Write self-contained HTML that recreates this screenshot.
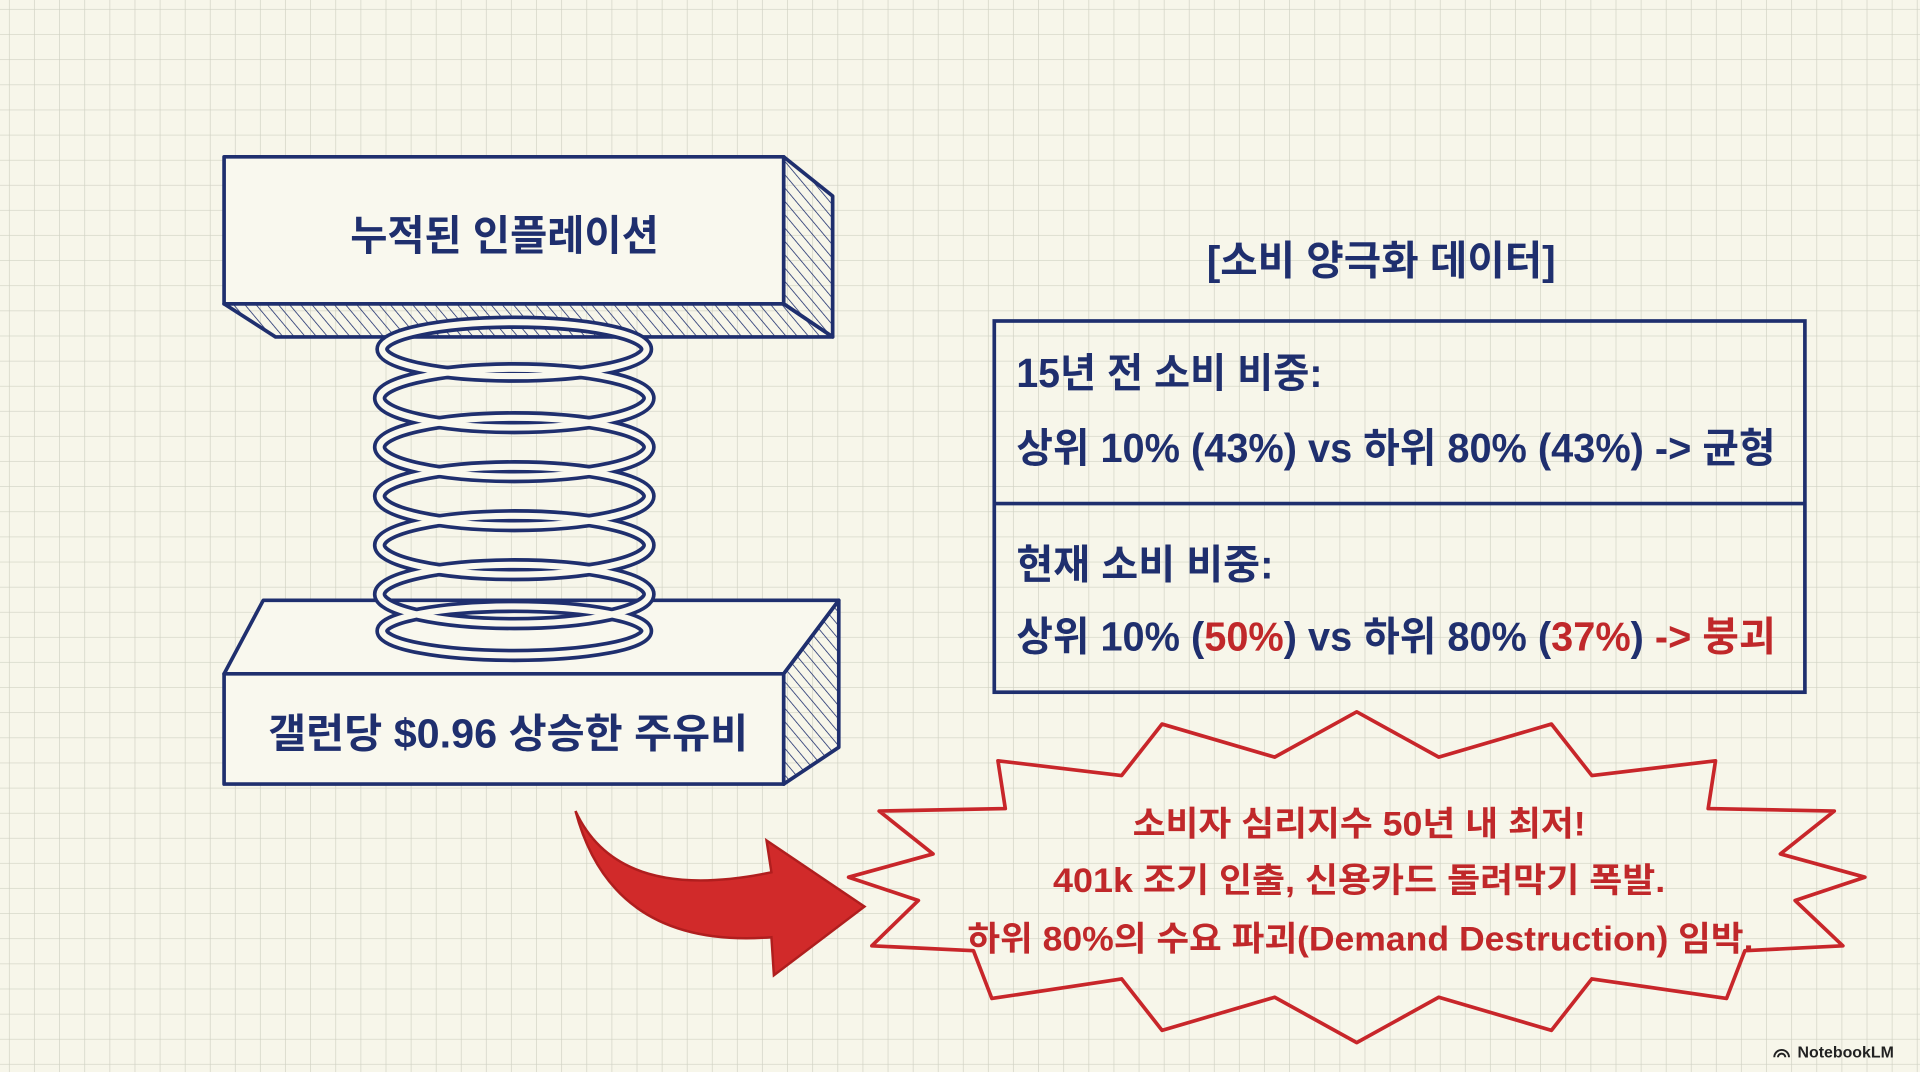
<!DOCTYPE html>
<html><head><meta charset="utf-8"><style>
html,body{margin:0;padding:0;background:#f7f6ea;}
svg{display:block}
text{font-family:"Liberation Sans","Noto Sans CJK KR",sans-serif;}
</style></head><body>
<svg width="1920" height="1072" viewBox="0 0 1568 875" preserveAspectRatio="none" xmlns="http://www.w3.org/2000/svg">
<defs>
<pattern id="g" width="20.5" height="20.5" patternUnits="userSpaceOnUse" x="8" y="8">
<path d="M20.5 0V20.5M0 20.5H20.5" stroke="#d0d1c3" stroke-width="1.1" fill="none"/>
</pattern>
<pattern id="h" width="7" height="7" patternUnits="userSpaceOnUse" patternTransform="rotate(-40)">
<path d="M0 0V7" stroke="#1f2f6e" stroke-width="1.3"/>
</pattern>
</defs>
<rect width="1568" height="875" fill="#f7f6ea"/>
<rect width="1568" height="875" fill="url(#g)"/>

<g stroke="#1f2f6e" stroke-width="3" stroke-linejoin="round">
<polygon points="640,128 680,160 680,275 640,248" fill="url(#h)"/>
<polygon points="183,248 640,248 680,275 225,275" fill="url(#h)"/>
<rect x="183" y="128" width="457" height="120" fill="#f9f8ee"/>
<polygon points="215,490 685,490 640,550 183,550" fill="#f9f8ee"/>
<polygon points="640,550 685,490 685,610 640,640" fill="url(#h)"/>
<rect x="183" y="550" width="457" height="90" fill="#f9f8ee"/>
</g>
<g fill="none" stroke="#1f2f6e">
<g stroke-width="11">
<ellipse cx="420" cy="285" rx="108" ry="22"/>
<ellipse cx="420" cy="325" rx="110" ry="24"/>
<ellipse cx="420" cy="365" rx="110" ry="24"/>
<ellipse cx="420" cy="405" rx="110" ry="24"/>
<ellipse cx="420" cy="445" rx="110" ry="24"/>
<ellipse cx="420" cy="485" rx="110" ry="24"/>
<ellipse cx="420" cy="515" rx="108" ry="20"/>
</g>
<g stroke="#f9f8ee" stroke-width="5">
<ellipse cx="420" cy="285" rx="108" ry="22"/>
<ellipse cx="420" cy="325" rx="110" ry="24"/>
<ellipse cx="420" cy="365" rx="110" ry="24"/>
<ellipse cx="420" cy="405" rx="110" ry="24"/>
<ellipse cx="420" cy="445" rx="110" ry="24"/>
<ellipse cx="420" cy="485" rx="110" ry="24"/>
<ellipse cx="420" cy="515" rx="108" ry="20"/>
</g>
</g>
<text x="412" y="204" font-size="34" font-weight="bold" fill="#1f2f6e" text-anchor="middle" textLength="252" lengthAdjust="spacingAndGlyphs">누적된 인플레이션</text>
<text x="415" y="610" font-size="33" font-weight="bold" fill="#1f2f6e" text-anchor="middle" textLength="392" lengthAdjust="spacingAndGlyphs">갤런당 $0.96 상승한 주유비</text>

<text x="1128" y="224" font-size="33" font-weight="bold" fill="#1f2f6e" text-anchor="middle" textLength="285" lengthAdjust="spacingAndGlyphs">[소비 양극화 데이터]</text>
<rect x="812" y="262" width="662" height="303" fill="none" stroke="#1f2f6e" stroke-width="3"/>
<line x1="812" y1="411" x2="1474" y2="411" stroke="#1f2f6e" stroke-width="3"/>
<g font-size="33" font-weight="bold" fill="#1f2f6e">
<text x="830" y="316" textLength="250" lengthAdjust="spacingAndGlyphs">15년 전 소비 비중:</text>
<text x="830" y="377" textLength="620" lengthAdjust="spacingAndGlyphs">상위 10% (43%) vs 하위 80% (43%) -&gt; 균형</text>
<text x="830" y="472" textLength="210" lengthAdjust="spacingAndGlyphs">현재 소비 비중:</text>
<text x="830" y="531" textLength="620" lengthAdjust="spacingAndGlyphs">상위 10% (<tspan fill="#c0282a">50%</tspan>) vs 하위 80% (<tspan fill="#c0282a">37%</tspan>) <tspan fill="#c0282a">-&gt; 붕괴</tspan></text>
</g>

<path d="M470,662 Q505,738 630,712 L626,686 L706,740 L632,796 L630,765 Q500,775 470,662 Z" fill="#d12a2a" stroke="#b01e1e" stroke-width="2"/>

<polygon fill="none" stroke="#c8262a" stroke-width="3" stroke-linejoin="round" points="1523,716 1466,735 1505,772 1425,776 1410,815 1300,799 1267,841 1175,814 1108,851 1041,814 949,841 916,799 810,815 795,776 712,772 750,735 693,716 762,697 718,662 821,660 815,621 916,633 949,591 1041,618 1108,581 1175,618 1267,591 1300,633 1401,621 1395,660 1498,662 1454,697"/>
<g font-size="28" font-weight="bold" fill="#c0282a" text-anchor="middle">
<text x="1110" y="682" textLength="370" lengthAdjust="spacingAndGlyphs">소비자 심리지수 50년 내 최저!</text>
<text x="1110" y="728" textLength="500" lengthAdjust="spacingAndGlyphs">401k 조기 인출, 신용카드 돌려막기 폭발.</text>
<text x="1111" y="776" textLength="642" lengthAdjust="spacingAndGlyphs">하위 80%의 수요 파괴(Demand Destruction) 임박.</text>
</g>

<text x="1468" y="863" font-size="13" font-weight="bold" fill="#222">NotebookLM</text>
<path d="M1449,863 a6,6 0 0 1 12,0 M1452,863 a3,3 0 0 1 6,0" fill="none" stroke="#222" stroke-width="1.6"/>
</svg>
</body></html>
